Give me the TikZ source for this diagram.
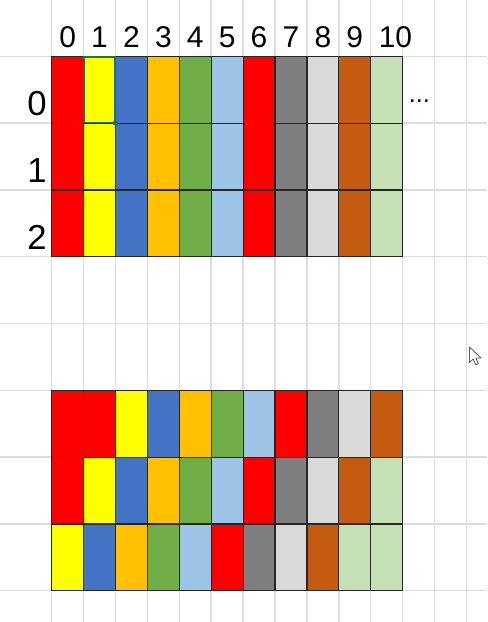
\documentclass[tikz,border=0pt]{standalone}
\usepackage{fontspec}
\setmainfont{Liberation Sans}
\definecolor{cred}{HTML}{FF0000}
\definecolor{cyel}{HTML}{FFFF00}
\definecolor{cblue}{HTML}{4472C4}
\definecolor{corange}{HTML}{FFC000}
\definecolor{cgreen}{HTML}{70AD47}
\definecolor{clblue}{HTML}{9DC3E6}
\definecolor{cgray}{HTML}{7F7F7F}
\definecolor{clgray}{HTML}{D9D9D9}
\definecolor{cbrown}{HTML}{C55A11}
\definecolor{clgreen}{HTML}{C5E0B4}
\definecolor{gridgray}{HTML}{DCDCDC}
\definecolor{selgreen}{HTML}{217346}
\begin{document}
\begin{tikzpicture}[x=0.75pt,y=-0.75pt,
  gridline/.style={draw=gridgray,line width=1.1pt},
  cell/.style={draw=black!85,line width=0.9pt},
  hdr/.style={anchor=base,inner sep=0pt,font=\fontsize{22.5}{22.5}\selectfont},
  rowlbl/.style={anchor=base,inner sep=0pt,font=\fontsize{26}{26}\selectfont},
  sel/.style={draw=selgreen,line width=1.2pt}]
\useasboundingbox (0,0) rectangle (487,622);
\fill[white] (0,0) rectangle (487,622);
% spreadsheet grid
\foreach \k in {0,...,13} \draw[gridline] ({51.7+31.9*\k},0) -- ({51.7+31.9*\k},622);
\foreach \j in {0,...,8} \draw[gridline] (0,{56.3+66.8*\j}) -- (487,{56.3+66.8*\j});
% table 1
\foreach \c [count=\i from 0] in {cred,cyel,cblue,corange,cgreen,clblue,cred,cgray,clgray,cbrown,clgreen}
  \foreach \r in {0,1,2}
    \filldraw[cell,fill=\c] ({51.7+31.9*\i},{56.3+66.8*\r}) rectangle ++(31.9,66.8);
% table 2
\foreach \c [count=\i from 0] in {cred,cred,cyel,cblue,corange,cgreen,clblue,cred,cgray,clgray,cbrown}
  \filldraw[cell,fill=\c] ({51.7+31.9*\i},{56.3+66.8*5}) rectangle ++(31.9,66.8);
\foreach \c [count=\i from 0] in {cred,cyel,cblue,corange,cgreen,clblue,cred,cgray,clgray,cbrown,clgreen}
  \filldraw[cell,fill=\c] ({51.7+31.9*\i},{56.3+66.8*6}) rectangle ++(31.9,66.8);
\foreach \c [count=\i from 0] in {cyel,cblue,corange,cgreen,clblue,cred,cgray,clgray,cbrown,clgreen,clgreen}
  \filldraw[cell,fill=\c] ({51.7+31.9*\i},{56.3+66.8*7}) rectangle ++(31.9,66.8);
% selection of cell (0,1)
\draw[sel] (84.2,56.9) rectangle (115.0,122.5);
\fill[selgreen] (113.2,121.0) rectangle (117.6,125.4);
% column headers
\foreach \n in {0,...,9} \node[hdr] (h\n) at ({51.7+31.9*(\n+0.5)},47) {\n};
\node[hdr] (h10) at (395.5,47) {10};
% row headers
\node[rowlbl] (r0) at (37,115) {0};
\node[rowlbl] (r1) at (37,182) {1};
\node[rowlbl] (r2) at (37,249) {2};
% ellipsis
\node[anchor=base west,inner sep=0pt,font=\fontsize{19}{19}\selectfont] (dots) at (408.5,102) {...};
% mouse pointer
\draw[fill=white,draw=black!65,line width=0.6pt,line join=round]
  (469.5,347) -- (469.5,362.5) -- (473.2,359) -- (475.8,364.8) -- (478.4,363.7) -- (475.9,358) -- (481,358) -- cycle;
\end{tikzpicture}
\end{document}
